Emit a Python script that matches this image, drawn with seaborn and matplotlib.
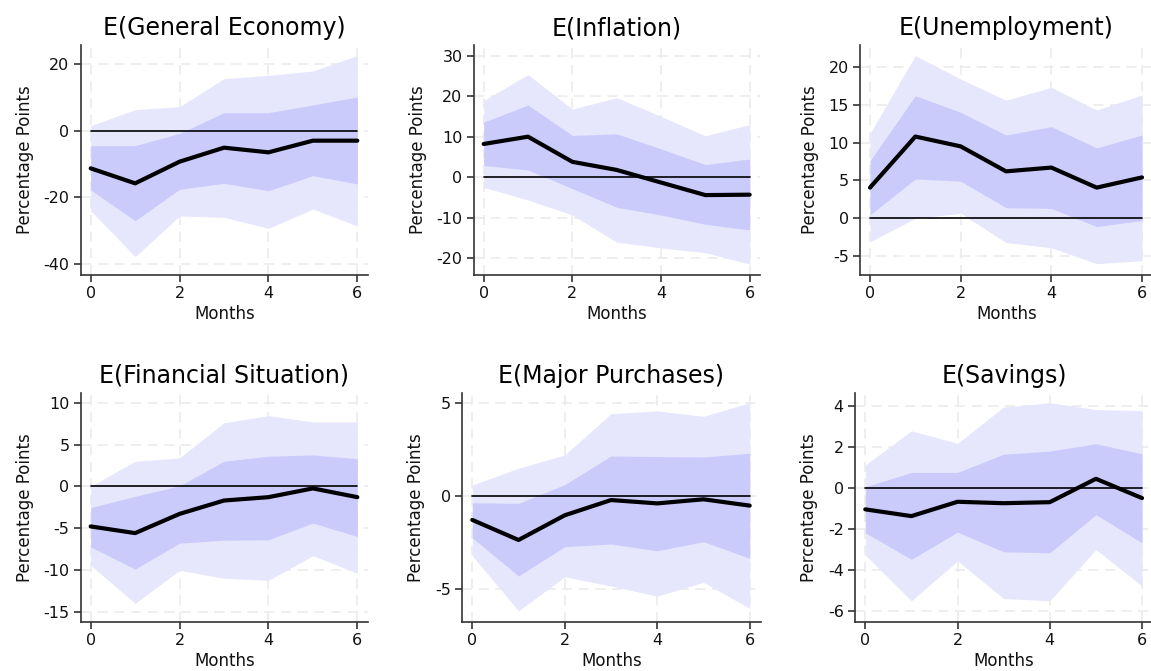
import numpy as np
import pandas as pd
import matplotlib
matplotlib.use("Agg")
import matplotlib.pyplot as plt
import seaborn as sns

months = [0, 1, 2, 3, 4, 5, 6]

titles = ["E(General Economy)", "E(Inflation)", "E(Unemployment)",
          "E(Financial Situation)", "E(Major Purchases)", "E(Savings)"]

# point estimates
est_general = [-11.3, -15.8, -9.3, -5.1, -6.5, -3.0, -3.0]
est_inflation = [8.2, 10.0, 3.8, 1.8, -1.3, -4.4, -4.3]
est_unemp = [4.05, 10.8, 9.5, 6.2, 6.7, 4.05, 5.4]
est_financial = [-4.8, -5.6, -3.3, -1.7, -1.3, -0.25, -1.3]
est_purchases = [-1.27, -2.35, -1.02, -0.2, -0.38, -0.16, -0.5]
est_savings = [-1.02, -1.35, -0.65, -0.72, -0.67, 0.47, -0.47]

# inner band (upper / lower)
in_hi_general = [-4.5, -4.5, -0.8, 5.4, 5.4, 7.7, 10.1]
in_lo_general = [-17.8, -27.0, -17.6, -15.8, -18.0, -13.5, -16.0]
in_hi_inflation = [13.6, 17.8, 10.3, 10.7, 7.0, 3.1, 4.5]
in_lo_inflation = [2.9, 1.8, -2.8, -7.4, -9.3, -11.6, -13.0]
in_hi_unemp = [7.6, 16.2, 14.0, 11.0, 12.1, 9.3, 11.0]
in_lo_unemp = [0.45, 5.2, 4.9, 1.4, 1.3, -1.1, -0.3]
in_hi_financial = [-2.55, -1.2, 0.05, 3.0, 3.6, 3.75, 3.3]
in_lo_financial = [-7.25, -9.9, -6.8, -6.45, -6.4, -4.4, -6.0]
in_hi_purchases = [-0.34, -0.38, 0.63, 2.17, 2.14, 2.12, 2.32]
in_lo_purchases = [-2.23, -4.29, -2.71, -2.57, -2.93, -2.44, -3.34]
in_hi_savings = [0.08, 0.78, 0.78, 1.67, 1.82, 2.18, 1.69]
in_lo_savings = [-2.16, -3.46, -2.13, -3.09, -3.14, -1.28, -2.65]

# outer band (upper / lower)
out_hi_general = [1.5, 6.3, 7.2, 15.6, 16.6, 17.9, 22.5]
out_lo_general = [-24.0, -37.8, -25.6, -26.0, -29.3, -23.5, -28.6]
out_hi_inflation = [18.9, 25.3, 16.8, 19.6, 15.0, 10.2, 13.0]
out_lo_inflation = [-2.5, -5.6, -9.3, -16.0, -17.4, -18.6, -21.4]
out_hi_unemp = [11.2, 21.5, 18.4, 15.6, 17.3, 14.3, 16.3]
out_lo_unemp = [-3.1, 0.0, 0.65, -3.2, -3.9, -6.0, -5.6]
out_hi_financial = [0.0, 3.0, 3.4, 7.6, 8.45, 7.7, 7.7]
out_lo_financial = [-9.45, -14.0, -10.05, -11.0, -11.25, -8.3, -10.4]
out_hi_purchases = [0.61, 1.51, 2.23, 4.45, 4.6, 4.31, 5.04]
out_lo_purchases = [-3.2, -6.16, -4.33, -4.83, -5.37, -4.63, -6.03]
out_hi_savings = [1.14, 2.81, 2.2, 3.97, 4.18, 3.85, 3.79]
out_lo_savings = [-3.25, -5.48, -3.53, -5.37, -5.48, -2.98, -4.76]

yticks = [[-40, -20, 0, 20], [-20, -10, 0, 10, 20, 30], [-5, 0, 5, 10, 15, 20],
          [-15, -10, -5, 0, 5, 10], [-5, 0, 5], [-6, -4, -2, 0, 2, 4]]
ylims = [(-43.3, 25.7), (-24.1, 32.6), (-7.5, 22.9),
         (-16.2, 11.2), (-6.75, 5.58), (-6.5, 4.67)]

est = [est_general, est_inflation, est_unemp, est_financial, est_purchases, est_savings]
in_hi = [in_hi_general, in_hi_inflation, in_hi_unemp, in_hi_financial, in_hi_purchases, in_hi_savings]
in_lo = [in_lo_general, in_lo_inflation, in_lo_unemp, in_lo_financial, in_lo_purchases, in_lo_savings]
out_hi = [out_hi_general, out_hi_inflation, out_hi_unemp, out_hi_financial, out_hi_purchases, out_hi_savings]
out_lo = [out_lo_general, out_lo_inflation, out_lo_unemp, out_lo_financial, out_lo_purchases, out_lo_savings]

sns.set_theme(style="white")
plt.rcParams['font.family'] = ['DejaVu Sans']

W, H = 1151, 671
fig = plt.figure(figsize=(W / 100, H / 100), dpi=100)

# axes boxes in pixels: (left, right, top, bottom)
boxes = [(80.7, 368.0, 45, 275), (473.7, 760.3, 45, 275), (859.8, 1152.9, 45, 275),
         (80.7, 368.0, 392.7, 621.7), (461.9, 760.8, 392.7, 621.7), (854.9, 1153.1, 392.7, 621.7)]

for i in range(6):
    l, r, t, b = boxes[i]
    ax = fig.add_axes([l / W, 1 - b / H, (r - l) / W, (b - t) / H])
    df = pd.DataFrame({"Months": months, "est": est[i]})
    ax.fill_between(months, out_lo[i], out_hi[i], color="#e6e6fd", lw=0, zorder=1)
    ax.fill_between(months, in_lo[i], in_hi[i], color="#cbcbfb", lw=0, zorder=2)
    ax.plot([0, 6], [0, 0], color="black", lw=1.2, zorder=3)
    sns.lineplot(data=df, x="Months", y="est", ax=ax, color="black", lw=3, zorder=4)
    ax.set_xlim(-0.225, 6.24)
    ax.set_ylim(*ylims[i])
    ax.set_xticks([0, 2, 4, 6])
    ax.set_yticks(yticks[i])
    ax.set_yticklabels([str(v) for v in yticks[i]])
    ax.grid(True, linestyle=(0, (6, 4)), color="#ebebeb", lw=1.2, zorder=0)
    ax.set_axisbelow(True)
    for s in ["top", "right"]:
        ax.spines[s].set_visible(False)
    for s in ["left", "bottom"]:
        ax.spines[s].set_color("#333333")
        ax.spines[s].set_linewidth(1.2)
    ax.tick_params(axis="both", direction="out", length=5, width=1.2,
                   color="#333333", labelsize=11.5, labelcolor="#111111",
                   left=True, bottom=True, pad=3)
    ax.set_xlabel("Months", fontsize=12, color="#111111", labelpad=3)
    ax.set_ylabel("Percentage Points", fontsize=12, color="#111111", labelpad=7)
    ax.set_title(titles[i], fontsize=17, color="#000000", pad=7)

fig.savefig("out.png", dpi=100)
